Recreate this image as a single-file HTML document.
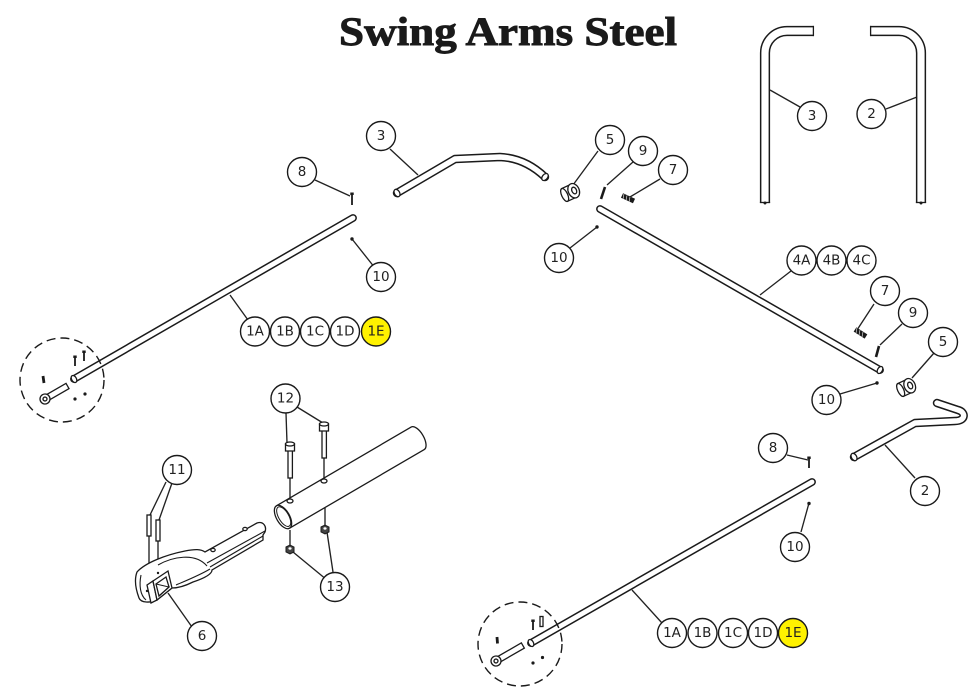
<!DOCTYPE html>
<html><head><meta charset="utf-8"><style>
html,body{margin:0;padding:0;background:#fff;}
svg{display:block;}
.b circle{fill:#fff;stroke:#1a1a1a;stroke-width:1.4;}
.b text{font-family:"DejaVu Sans","Liberation Sans",sans-serif;font-size:13.5px;fill:#222;text-anchor:middle;dominant-baseline:central;}
.ld line{stroke:#222;stroke-width:1.35;}
.tk{fill:none;stroke:#1a1a1a;stroke-linejoin:round;}
.tw{fill:none;stroke:#fff;stroke-linejoin:round;}
.o{fill:#fff;stroke:#1a1a1a;stroke-width:1.3;}
</style></head><body>
<svg width="977" height="700" viewBox="0 0 977 700" xmlns="http://www.w3.org/2000/svg">
<rect width="977" height="700" fill="#fff"/>
<text x="339" y="45" font-family="Liberation Serif, serif" font-weight="bold" font-size="40" textLength="338" lengthAdjust="spacingAndGlyphs" fill="#1a1a1a" stroke="#1a1a1a" stroke-width="0.9">Swing Arms Steel</text>

<!-- leaders -->
<g class="ld">
<line x1="390" y1="149" x2="418" y2="175"/>
<line x1="315" y1="180" x2="350" y2="196"/>
<line x1="352" y1="239" x2="375" y2="268"/>
<line x1="230" y1="295" x2="248" y2="320"/>
<line x1="598" y1="151" x2="573" y2="185"/>
<line x1="633" y1="162" x2="607" y2="185"/>
<line x1="660" y1="179" x2="630" y2="197"/>
<line x1="570" y1="248" x2="597" y2="227"/>
<line x1="760" y1="295" x2="791" y2="271"/>
<line x1="874" y1="304" x2="857" y2="330"/>
<line x1="902" y1="324" x2="880" y2="345"/>
<line x1="934" y1="353" x2="912" y2="378"/>
<line x1="840" y1="394" x2="877" y2="383"/>
<line x1="915" y1="478" x2="885" y2="445"/>
<line x1="787" y1="455" x2="808" y2="460"/>
<line x1="801" y1="532" x2="809" y2="503"/>
<line x1="662" y1="623" x2="632" y2="590"/>
<line x1="770" y1="90" x2="800" y2="107"/>
<line x1="886" y1="109" x2="917" y2="97"/>
<line x1="286" y1="413" x2="287" y2="443"/>
<line x1="297" y1="407" x2="323" y2="423"/>
<line x1="166" y1="482" x2="150" y2="515"/>
<line x1="172" y1="483" x2="159" y2="520"/>
<line x1="327" y1="580" x2="293" y2="552"/>
<line x1="333" y1="572" x2="327" y2="532"/>
<line x1="192" y1="627" x2="168" y2="593"/>
<line x1="290" y1="478" x2="290" y2="500"/>
<line x1="324" y1="458" x2="324" y2="480"/>
<line x1="290" y1="530" x2="290" y2="547"/>
<line x1="325" y1="508" x2="325" y2="527"/>
<line x1="149" y1="536" x2="149" y2="564"/>
<line x1="158" y1="541" x2="158" y2="572"/>
</g>

<!-- top-right tubes -->
<path class="tk" style="stroke-linecap:butt" stroke-width="10.2" d="M765,203 L765,53 A22,22 0 0 1 787,31 L814,31"/>
<path class="tw" style="stroke-linecap:butt" stroke-width="7.2" d="M765,202.3 L765,53 A22,22 0 0 1 787,31 L813.3,31"/>
<line x1="813.4" y1="25.9" x2="813.4" y2="36.1" stroke="#1a1a1a" stroke-width="1.3"/>
<line x1="759.9" y1="202.5" x2="770.1" y2="202.5" stroke="#1a1a1a" stroke-width="1.3"/>
<circle cx="765" cy="203" r="1.5" fill="#1a1a1a"/>
<path class="tk" style="stroke-linecap:butt" stroke-width="10.2" d="M921,203 L921,53 A22,22 0 0 0 899,31 L870,31"/>
<path class="tw" style="stroke-linecap:butt" stroke-width="7.2" d="M921,202.3 L921,53 A22,22 0 0 0 899,31 L870.7,31"/>
<line x1="870.6" y1="25.9" x2="870.6" y2="36.1" stroke="#1a1a1a" stroke-width="1.3"/>
<line x1="915.9" y1="202.5" x2="926.1" y2="202.5" stroke="#1a1a1a" stroke-width="1.3"/>
<circle cx="921" cy="203" r="1.5" fill="#1a1a1a"/>

<!-- rod 1 upper -->
<path class="tk" style="stroke-linecap:round" stroke-width="7.8" d="M74,379 L353,218"/>
<path class="tw" style="stroke-linecap:round" stroke-width="4.8" d="M74,379 L353,218"/>
<ellipse cx="74" cy="379" rx="2.4" ry="3.8" transform="rotate(-30 74 379)" class="o"/>

<!-- tube 3 middle -->
<path class="tk" style="stroke-linecap:round" stroke-width="8.4" d="M397,193 L455,159 L500,157 Q525,158 545,177"/>
<path class="tw" style="stroke-linecap:round" stroke-width="5.4" d="M397,193 L455,159 L500,157 Q525,158 545,177"/>
<ellipse cx="397" cy="193" rx="2.6" ry="4" transform="rotate(-30 397 193)" class="o"/>
<ellipse cx="545" cy="177" rx="2.6" ry="4" transform="rotate(40 545 177)" class="o"/>

<!-- rod 4 -->
<path class="tk" style="stroke-linecap:round" stroke-width="7.8" d="M600,209 L880,370"/>
<path class="tw" style="stroke-linecap:round" stroke-width="4.8" d="M600,209 L880,370"/>
<ellipse cx="880" cy="370" rx="2.4" ry="3.8" transform="rotate(30 880 370)" class="o"/>

<!-- tube 2 -->
<path class="tk" style="stroke-linecap:round" stroke-width="8.4" d="M854,457 L915,423 L955,421 C966,421 966,412 958,410 L937,403"/>
<path class="tw" style="stroke-linecap:round" stroke-width="5.4" d="M854,457 L915,423 L955,421 C966,421 966,412 958,410 L937,403"/>
<ellipse cx="854" cy="457" rx="2.6" ry="4" transform="rotate(-30 854 457)" class="o"/>

<!-- rod 1 lower -->
<path class="tk" style="stroke-linecap:round" stroke-width="7.8" d="M531,643 L812,482"/>
<path class="tw" style="stroke-linecap:round" stroke-width="4.8" d="M531,643 L812,482"/>
<ellipse cx="531" cy="643" rx="2.4" ry="3.8" transform="rotate(-30 531 643)" class="o"/>

<!-- dashed circles -->
<circle cx="62" cy="380" r="42" fill="none" stroke="#1a1a1a" stroke-width="1.4" stroke-dasharray="9,5"/>
<circle cx="520" cy="644" r="42" fill="none" stroke="#1a1a1a" stroke-width="1.4" stroke-dasharray="9,5"/>

<!-- small hardware -->
<g stroke="#1a1a1a" fill="#1a1a1a">
<line x1="352" y1="194" x2="352" y2="205" stroke-width="1.8"/>
<rect x="350.3" y="192.5" width="3.4" height="2.5" stroke="none"/>
<circle cx="352" cy="239" r="1.7" stroke="none"/>
<line x1="809" y1="458" x2="809" y2="468" stroke-width="1.8"/>
<rect x="807.3" y="456.5" width="3.4" height="2.5" stroke="none"/>
<circle cx="809" cy="503.5" r="1.7" stroke="none"/>
<circle cx="597" cy="227" r="1.7" stroke="none"/>
<circle cx="877" cy="383" r="1.7" stroke="none"/>
<line x1="605" y1="187" x2="601" y2="199" stroke-width="2.6"/>
<line x1="879" y1="346" x2="876" y2="357" stroke-width="2.6"/>
<line x1="622" y1="195.5" x2="634" y2="201" stroke-width="5"/>
<line x1="855" y1="329.5" x2="866" y2="336.5" stroke-width="5"/>
</g>
<g stroke="#fff" stroke-width="0.6">
<line x1="624" y1="194" x2="623" y2="199"/><line x1="627" y1="195.5" x2="626" y2="200.5"/><line x1="630" y1="197" x2="629" y2="202"/>
<line x1="857" y1="328" x2="856" y2="333"/><line x1="860" y1="330" x2="859" y2="335"/><line x1="863" y1="332" x2="862" y2="337"/>
</g>

<!-- nuts 5 -->
<g transform="translate(571,192) rotate(-25)">
<path d="M-7,-7 L3,-7 L3,7 L-7,7 Z" class="o"/>
<ellipse cx="-7" cy="0" rx="3" ry="7" class="o"/>
<ellipse cx="3" cy="0" rx="5.5" ry="7.5" class="o"/>
<ellipse cx="3.5" cy="0" rx="2.3" ry="3.5" class="o"/>
</g>
<g transform="translate(907,387) rotate(-25)">
<path d="M-7,-7 L3,-7 L3,7 L-7,7 Z" class="o"/>
<ellipse cx="-7" cy="0" rx="3" ry="7" class="o"/>
<ellipse cx="3" cy="0" rx="5.5" ry="7.5" class="o"/>
<ellipse cx="3.5" cy="0" rx="2.3" ry="3.5" class="o"/>
</g>

<!-- detail circle upper contents -->
<g stroke="#1a1a1a" fill="#1a1a1a">
<line x1="75" y1="357" x2="75" y2="366" stroke-width="1.8"/>
<rect x="73.3" y="355.5" width="3.4" height="2.5" stroke="none"/>
<line x1="84" y1="352" x2="84" y2="361" stroke-width="1.8"/>
<rect x="82.3" y="350.5" width="3.4" height="2.5" stroke="none"/>
<line x1="43" y1="376" x2="44" y2="383" stroke-width="2.8"/>
<circle cx="75" cy="399" r="1.6" stroke="none"/>
<circle cx="85" cy="394" r="1.6" stroke="none"/>
</g>
<g transform="translate(45,399) rotate(-30)">
<rect x="4" y="-3" width="22" height="6" class="o"/>
<ellipse cx="0" cy="0" rx="5" ry="5" class="o"/>
<ellipse cx="0" cy="0" rx="2" ry="2" class="o"/>
</g>
<!-- detail circle lower contents -->
<g stroke="#1a1a1a" fill="#1a1a1a">
<line x1="533" y1="621" x2="533" y2="630" stroke-width="1.8"/>
<rect x="531.3" y="619.5" width="3.4" height="2.5" stroke="none"/>
<circle cx="533" cy="663" r="1.6" stroke="none"/>
<circle cx="542.5" cy="657.5" r="1.6" stroke="none"/>
<line x1="497" y1="637" x2="497.5" y2="643.5" stroke-width="2.8"/>
</g>
<rect x="540" y="616.5" width="3" height="10" class="o" stroke-width="1.1"/>
<g transform="translate(496,661) rotate(-30)">
<rect x="4" y="-3" width="27" height="6" class="o"/>
<ellipse cx="0" cy="0" rx="5" ry="5" class="o"/>
<ellipse cx="0" cy="0" rx="2" ry="2" class="o"/>
</g>

<!-- big tube -->
<g transform="translate(283,517) rotate(-30.3)">
<path d="M0,-13 L156,-13 A6,13 0 0 1 156,13 L0,13" class="o" stroke-width="1.4"/>
<ellipse cx="0" cy="0" rx="6.5" ry="13" class="o" stroke-width="1.4"/>
<ellipse cx="0.8" cy="0" rx="5" ry="11" fill="#fff" stroke="#1a1a1a" stroke-width="1"/>
</g>
<ellipse cx="290" cy="501" rx="3" ry="2" class="o"/>
<ellipse cx="324" cy="481" rx="3" ry="2" class="o"/>

<!-- bolts 12 -->
<rect x="288" y="450" width="4.4" height="28" class="o"/>
<path d="M285.5,444 L294.5,444 L294.5,451 L285.5,451 Z" class="o"/>
<ellipse cx="290" cy="444" rx="4.5" ry="2" class="o"/>
<rect x="322" y="430" width="4.4" height="28" class="o"/>
<path d="M319.5,424 L328.5,424 L328.5,431 L319.5,431 Z" class="o"/>
<ellipse cx="324" cy="424" rx="4.5" ry="2" class="o"/>

<!-- nuts 13 -->
<g fill="#444" stroke="#1a1a1a" stroke-width="1">
<polygon points="286,547 290,545 294,547 294,552 290,554 286,552"/>
<polygon points="321,527 325,525 329,527 329,532 325,534 321,532"/>
</g>
<ellipse cx="290" cy="548.5" rx="1.6" ry="1.2" fill="#fff"/>
<ellipse cx="325" cy="528.5" rx="1.6" ry="1.2" fill="#fff"/>

<!-- pins 11 -->
<rect x="147" y="515" width="4" height="21" class="o" stroke-width="1.5"/>
<rect x="156" y="520" width="4" height="21" class="o" stroke-width="1.5"/>

<!-- arm 6 -->
<path d="M137,572 C145,563 165,555 185,551 C195,549 201,549 205,552 L257,523 C263,521 267,526 265,532 L263,535 L263,540 L212,570 C212,574 205,578 193,582 C185,586 178,588 172,588 L157,600 C150,603 141,603 139,598 C136,590 134,580 137,572 Z" class="o" stroke-width="1.3"/>
<g fill="none" stroke="#1a1a1a" stroke-width="1.1">
<path d="M207,563 L265,531"/>
<path d="M210,567 L263,536"/>
<path d="M158,565 C172,557 195,552 207,566"/>
<path d="M176,585 C190,579 200,575 210,569"/>
<path d="M141,575 C139,585 140,595 146,600"/>
</g>
<ellipse cx="213" cy="550" rx="2.2" ry="1.6" class="o" stroke-width="1"/>
<ellipse cx="245" cy="529" rx="2.2" ry="1.6" class="o" stroke-width="1"/>
<polygon points="147,585 153,581 157,600 151,603" class="o" stroke-width="1.1"/>
<polygon points="153,581 168,571 172,588 157,600" class="o" stroke-width="1.4"/>
<polygon points="156,584 166,577 169,587 159,596" class="o" stroke-width="1.1"/>
<path d="M156,584 L169,587 L159,596" fill="none" stroke="#1a1a1a" stroke-width="1"/>
<circle cx="158" cy="573" r="1.2" fill="#1a1a1a"/>
<circle cx="147" cy="591" r="1.2" fill="#1a1a1a"/>

<!-- balloons -->
<g class="b">
<circle cx="381" cy="136" r="14.5"/><text x="381" y="136">3</text>
<circle cx="302" cy="172" r="14.5"/><text x="302" y="172">8</text>
<circle cx="381" cy="277" r="14.5"/><text x="381" y="277">10</text>
<circle cx="255" cy="331.5" r="14.5"/><text x="255" y="331.5">1A</text>
<circle cx="285" cy="331.5" r="14.5"/><text x="285" y="331.5">1B</text>
<circle cx="315" cy="331.5" r="14.5"/><text x="315" y="331.5">1C</text>
<circle cx="345" cy="331.5" r="14.5"/><text x="345" y="331.5">1D</text>
<circle cx="376" cy="331.5" r="14.5" style="fill:#fff200"/><text x="376" y="331.5">1E</text>
<circle cx="610" cy="140" r="14.5"/><text x="610" y="140">5</text>
<circle cx="643" cy="151" r="14.5"/><text x="643" y="151">9</text>
<circle cx="673" cy="170" r="14.5"/><text x="673" y="170">7</text>
<circle cx="559" cy="258" r="14.5"/><text x="559" y="258">10</text>
<circle cx="801.5" cy="260.5" r="14.5"/><text x="801.5" y="260.5">4A</text>
<circle cx="831.5" cy="260.5" r="14.5"/><text x="831.5" y="260.5">4B</text>
<circle cx="861.5" cy="260.5" r="14.5"/><text x="861.5" y="260.5">4C</text>
<circle cx="885" cy="291" r="14.5"/><text x="885" y="291">7</text>
<circle cx="913" cy="313" r="14.5"/><text x="913" y="313">9</text>
<circle cx="943" cy="342" r="14.5"/><text x="943" y="342">5</text>
<circle cx="826.5" cy="400" r="14.5"/><text x="826.5" y="400">10</text>
<circle cx="925" cy="491" r="14.5"/><text x="925" y="491">2</text>
<circle cx="773" cy="448" r="14.5"/><text x="773" y="448">8</text>
<circle cx="795" cy="547" r="14.5"/><text x="795" y="547">10</text>
<circle cx="672" cy="633" r="14.5"/><text x="672" y="633">1A</text>
<circle cx="702.5" cy="633" r="14.5"/><text x="702.5" y="633">1B</text>
<circle cx="733" cy="633" r="14.5"/><text x="733" y="633">1C</text>
<circle cx="763" cy="633" r="14.5"/><text x="763" y="633">1D</text>
<circle cx="793" cy="633" r="14.5" style="fill:#fff200"/><text x="793" y="633">1E</text>
<circle cx="812" cy="116" r="14.5"/><text x="812" y="116">3</text>
<circle cx="871.5" cy="114" r="14.5"/><text x="871.5" y="114">2</text>
<circle cx="285.5" cy="398.5" r="14.5"/><text x="285.5" y="398.5">12</text>
<circle cx="177" cy="470" r="14.5"/><text x="177" y="470">11</text>
<circle cx="335" cy="587" r="14.5"/><text x="335" y="587">13</text>
<circle cx="202" cy="636" r="14.5"/><text x="202" y="636">6</text>
</g>
</svg>
</body></html>
